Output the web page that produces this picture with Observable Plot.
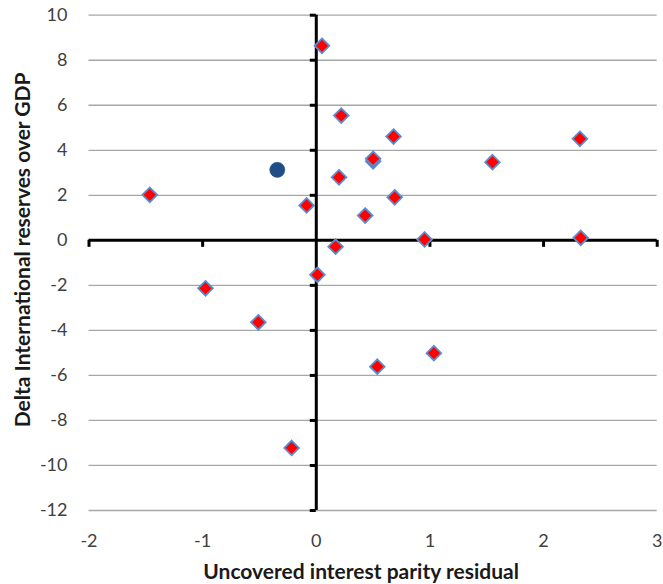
<!DOCTYPE html>
<html><head><meta charset="utf-8">
<script src="https://cdn.jsdelivr.net/npm/d3@7"></script>
<script src="https://cdn.jsdelivr.net/npm/@observablehq/plot@0.6"></script>
<style>body{margin:0;background:#fff}</style>
</head><body><div id="chart"></div>
<script>
const uipResidual   = [0.05, 0.22, 0.68, 0.50, 0.50, 1.55, 2.32, 0.20, 0.69, 0.43, -0.085, -1.465, 0.953, 2.327, 0.17, 0.01, -0.975, -0.51, 0.537, 1.035, -0.217];
const deltaReserves = [8.64, 5.54, 4.61, 3.51, 3.62, 3.47, 4.51, 2.80, 1.91, 1.10, 1.55, 2.02, 0.04, 0.11, -0.28, -1.53, -2.13, -3.64, -5.61, -5.01, -9.22];
const highlightX = [-0.343];
const highlightY = [3.13];
const xTicks = [-2, -1, 0, 1, 2, 3];
const yTicks = [-12, -10, -8, -6, -4, -2, 0, 2, 4, 6, 8, 10];
const xTitle = "Uncovered interest parity residual";
const yTitle = "Delta International reserves over GDP";

const points = uipResidual.map((x, i) => ({x, y: deltaReserves[i]}));
const highlight = highlightX.map((x, i) => ({x, y: highlightY[i]}));
const gridY = yTicks.filter(d => d !== 0);
const axisXTicks = xTicks.filter(d => d !== 0);

const font = "Lato, 'Open Sans', sans-serif";

const chart = Plot.plot({
  width: 663,
  height: 584,
  marginTop: 14.7,
  marginRight: 6.3,
  marginBottom: 74,
  marginLeft: 88.5,
  style: {fontFamily: font, background: "#fff"},
  x: {domain: [-2, 3]},
  y: {domain: [-12, 10]},
  marks: [
    Plot.ruleY(gridY, {stroke: "#a6a6a6", strokeWidth: 1.3}),
    Plot.axisY({ticks: yTicks, tickSize: 0, tickPadding: 21.5, tickFormat: d => String(d), label: null, fontSize: 18, fill: "#404040"}),
    Plot.axisX({ticks: xTicks, tickSize: 0, tickPadding: 24, tickFormat: d => String(d), label: null, fontSize: 18, fill: "#404040"}),
    Plot.ruleX(axisXTicks, {x: d => d, y1: 0, y2: 0, insetBottom: -7, stroke: "#000", strokeWidth: 3}),
    Plot.ruleY(yTicks.filter(d => d !== 0), {y: d => d, x1: 0, x2: 0, insetLeft: -6, stroke: "#000", strokeWidth: 3}),
    Plot.ruleY([0], {stroke: "#000", strokeWidth: 3}),
    Plot.ruleX([0], {stroke: "#000", strokeWidth: 3}),
    Plot.dot(points, {x: "x", y: "y", symbol: "diamond2", r: 6.6, fill: "#ff0000", stroke: "#5a8ed0", strokeWidth: 1.8}),
    Plot.dot(highlight, {x: "x", y: "y", symbol: "circle", r: 7.6, fill: "#1f4e86", stroke: "#1f4e86", strokeWidth: 0.5}),
    Plot.text([xTitle], {frameAnchor: "bottom", dx: -12, dy: 61.5, fontSize: 21, fontWeight: "bold", fill: "#1a1a1a", lineAnchor: "middle", textAnchor: "middle"}),
    Plot.text([yTitle], {frameAnchor: "left", dx: -65.5, dy: -13, rotate: -90, fontSize: 21, fontWeight: "bold", fill: "#1a1a1a", lineAnchor: "middle", textAnchor: "middle"})
  ]
});
document.getElementById("chart").appendChild(chart);
</script>
</body></html>
